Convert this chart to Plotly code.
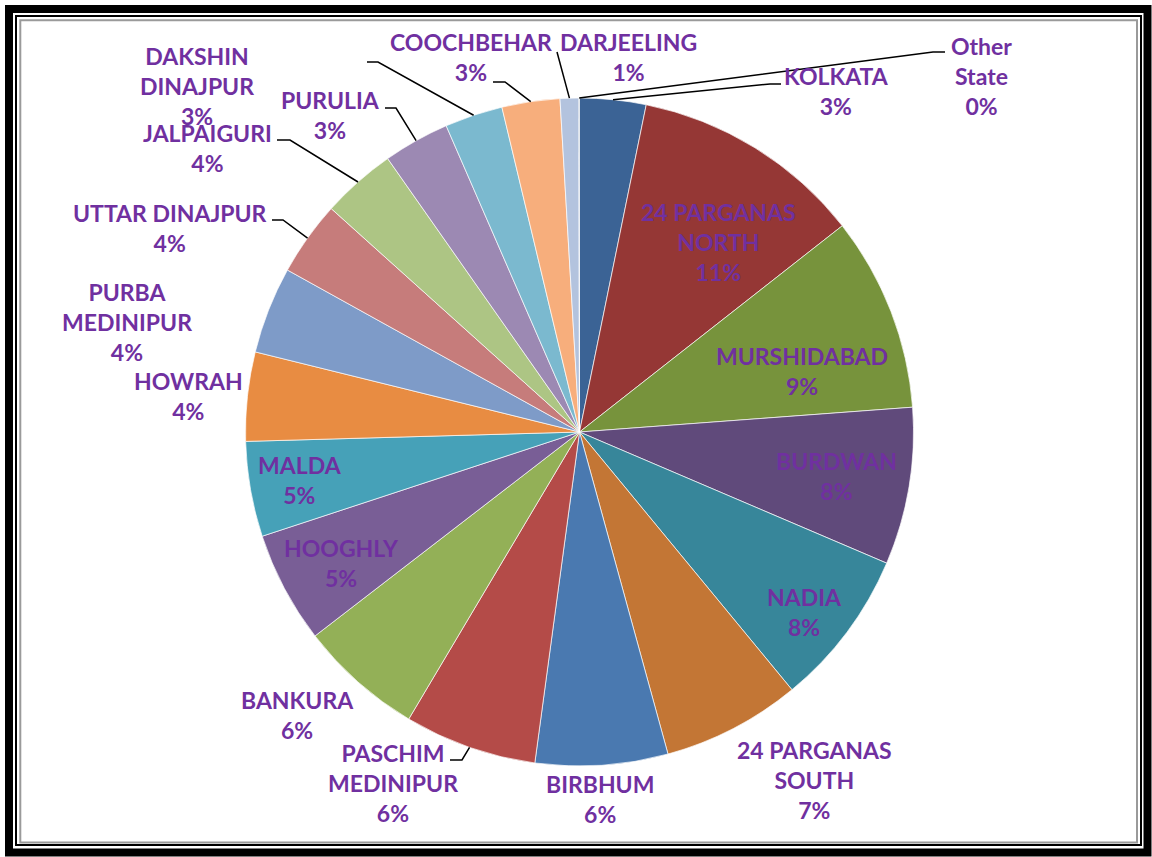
import math
import plotly.graph_objects as go

# ---------------- data ----------------
districts = ["KOLKATA", "24 PARGANAS NORTH", "MURSHIDABAD", "BURDWAN", "NADIA",
             "24 PARGANAS SOUTH", "BIRBHUM", "PASCHIM MEDINIPUR", "BANKURA", "HOOGHLY",
             "MALDA", "HOWRAH", "PURBA MEDINIPUR", "UTTAR DINAJPUR", "JALPAIGURI",
             "PURULIA", "DAKSHIN DINAJPUR", "COOCHBEHAR", "DARJEELING", "Other State"]
shares = [3.2, 11.2, 9.4, 7.6, 7.6, 6.7, 6.4, 6.4, 6.0, 5.4,
          4.6, 4.3, 4.2, 3.6, 3.6, 3.2, 2.8, 2.8, 0.9, 0.03]
label_text = ["KOLKATA", "24 PARGANAS<br>NORTH", "MURSHIDABAD", "BURDWAN", "NADIA",
              "24 PARGANAS<br>SOUTH", "BIRBHUM", "PASCHIM<br>MEDINIPUR", "BANKURA", "HOOGHLY",
              "MALDA", "HOWRAH", "PURBA<br>MEDINIPUR", "UTTAR DINAJPUR", "JALPAIGURI",
              "PURULIA", "DAKSHIN<br>DINAJPUR", "COOCHBEHAR", "DARJEELING", "Other<br>State"]
colors = ["#3B6395", "#953735", "#77933C", "#604A7B", "#37869A",
          "#C37635", "#4A79B0", "#B44B48", "#93B057", "#795E96",
          "#46A1B8", "#E88C42", "#7E9BC8", "#C67C7B", "#ADC584",
          "#9C89B3", "#7BB9CF", "#F7AE7C", "#B3C3DE", "#2C4D75"]

# ---------------- layout (pixels) ----------------
W, H = 1152, 857
CX, CY, R = 579.5, 432.0, 334.0
TXT = "#7030A0"

# label centres (layout positions of text blocks)
label_pos = [(836, 91), (718, 242), (802, 371), (836, 476), (804, 612),
             (814, 780), (600, 799), (393, 783), (297, 715), (341, 563),
             (300, 480), (188, 396), (127, 322), (170, 228), (207, 148),
             (330, 115), (197, 86), (471, 57), (628, 57), (981, 76)]
# leader line elbows / ends for outside labels: index -> (elbow, end)
leaders = {0: ((770, 84), (781, 84)),
           7: ((462, 760), (450, 760)),
           13: ((283, 220), (272, 220)),
           14: ((290, 140), (277, 140)),
           15: ((396, 108), (385, 108)),
           16: ((378, 62), (367, 62)),
           17: ((505, 82), (493, 82)),
           18: ((557, 52), (557, 52)),
           19: ((933, 52), (945, 52))}


def px(x):
    return x / W


def py(y):
    return 1 - y / H


fig = go.Figure(go.Pie(
    labels=districts, values=shares, sort=False, direction="clockwise", rotation=0,
    marker=dict(colors=colors, line=dict(color="rgba(255,255,255,0.85)", width=0.8)),
    textinfo="none", hoverinfo="label+percent", showlegend=False,
    domain=dict(x=[px(CX - R), px(CX + R)], y=[py(CY + R), py(CY - R)]),
))

total = sum(shares)
annotations = []
shapes = []
cum = 0.0
for i, (name, v) in enumerate(zip(label_text, shares)):
    mid = (cum + v / 2) / total * 2 * math.pi
    cum += v
    pct = round(v / total * 100)
    lx, ly = label_pos[i]
    annotations.append(dict(
        x=px(lx), y=py(ly), xref="paper", yref="paper", showarrow=False,
        text=f"<b>{name}<br>{pct}%</b>", xanchor="center", yanchor="middle",
        font=dict(family="Lato", size=23, color=TXT), align="center"))
    if i in leaders:
        sx = CX + R * math.sin(mid)
        sy = CY - R * math.cos(mid)
        (ex, ey), (tx, ty) = leaders[i]
        shapes.append(dict(
            type="path", xref="paper", yref="paper",
            path=f"M {px(sx)},{py(sy)} L {px(ex)},{py(ey)} L {px(tx)},{py(ty)}",
            line=dict(color="black", width=1.5)))

# frame: thick black, thin black, grey
for (x0, y0, x1, y1, w, c) in [(9, 9, 1147.5, 852.5, 8, "black"),
                                (16, 16, 1141, 845, 2, "black"),
                                (20.3, 20.3, 1137, 842.5, 2, "#9a9a9a")]:
    shapes.append(dict(type="rect", xref="paper", yref="paper",
                       x0=px(x0), x1=px(x1), y0=py(y1), y1=py(y0),
                       line=dict(color=c, width=w), fillcolor="rgba(0,0,0,0)"))

fig.update_layout(
    width=W, height=H, margin=dict(l=0, r=0, t=0, b=0),
    paper_bgcolor="white", plot_bgcolor="white",
    annotations=annotations, shapes=shapes,
)

fig.write_html("out.html", config={"displayModeBar": False},
               post_script="document.body.style.margin='0';")
